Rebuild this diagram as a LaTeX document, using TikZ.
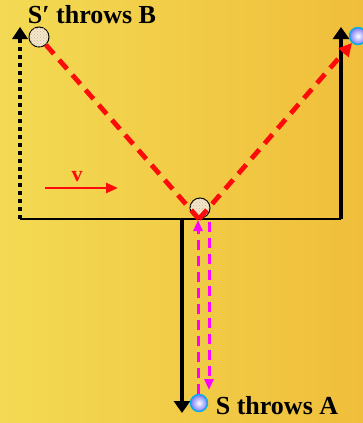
\documentclass[tikz,border=0pt]{standalone}
\usepackage{fontspec}
\setmainfont{Liberation Serif}
\usetikzlibrary{arrows.meta,patterns}
\definecolor{bgL}{RGB}{243,218,84}
\definecolor{bgR}{RGB}{240,190,58}
\definecolor{redd}{RGB}{255,10,10}
\definecolor{mag}{RGB}{255,0,255}
\definecolor{cream}{RGB}{242,232,205}
\definecolor{ballblue}{RGB}{120,120,250}
\tikzset{
  x=1pt,y=-1pt,
  blk/.style={line width=3.6pt,black},
  blktip/.style={-{Triangle[width=16pt,length=12pt]}},
  reddash/.style={redd,line width=4.8pt,dash pattern=on 12pt off 8pt},
  magdash/.style={mag,line width=3pt,dash pattern=on 10pt off 6pt},
  ballB/.style={circle,draw=black,line width=1pt,minimum size=20pt,inner sep=0pt,
     fill=cream,postaction={pattern=crosshatch dots,pattern color=brown!60}},
  ballA/.style={circle,draw=cyan,line width=1.4pt,minimum size=17pt,inner sep=0pt,
     shading=radial,inner color=white,outer color=ballblue},
  lbl/.style={font=\fontsize{26}{30}\selectfont\bfseries,inner sep=0pt}
}
\begin{document}
\begin{tikzpicture}
\shade[left color=bgL,right color=bgR] (0,0) rectangle (363,423);
\useasboundingbox (0,0) rectangle (363,423);
% frame
\coordinate (LB) at (20,219);
\coordinate (LT) at (20,27);
\coordinate (RB) at (341,219);
\coordinate (RT) at (341,27);
\coordinate (MB) at (182,219);
\coordinate (MD) at (182,413);
\draw[line width=1.8pt] (LB) -- (RB);
\draw[line width=4pt,dash pattern=on 4pt off 4pt] (LB) -- ([yshift=-12pt]LT);
\draw[blk,-{Triangle[width=16pt,length=12pt]},line width=0pt] ([yshift=-12pt]LT) -- (LT);
\draw[blk,blktip] (RB) -- (RT);
\draw[blk,blktip] (MB) -- (MD);
% balls
\node[ballB] (B1) at (39,37) {};
\node[ballB] (B2) at (200,208) {};
\node[ballA] (A1) at (358,36) {};
\node[ballA] (A2) at (199,403) {};
% red paths
\coordinate (V) at (199,219);
\draw[reddash] (B1) -- (V);
\draw[reddash,-{Triangle[width=13pt,length=13pt]}] (V) -- (A1);
% magenta
\coordinate (m1b) at (198,394);
\coordinate (m1t) at (198,220);
\coordinate (m2t) at (209,222);
\coordinate (m2b) at (209,390);
\draw[magdash,-{Triangle[width=9pt,length=11pt]}] (m1b) -- (m1t);
\draw[magdash,-{Triangle[width=9pt,length=11pt]}] (m2t) -- (m2b);
% velocity
\coordinate (v1) at (45,188);
\coordinate (v2) at (118,188);
\draw[redd,line width=2.5pt,-{Triangle[width=10pt,length=12pt]}] (v1) -- (v2);
\node[lbl,text=redd,font=\fontsize{22}{26}\selectfont\bfseries] (vl) at (77,177) {v};
% labels
\node[lbl] (tB) at (92,15) {S′ throws B};
\node[lbl] (tA) at (277,406) {S throws A};
\end{tikzpicture}
\end{document}
